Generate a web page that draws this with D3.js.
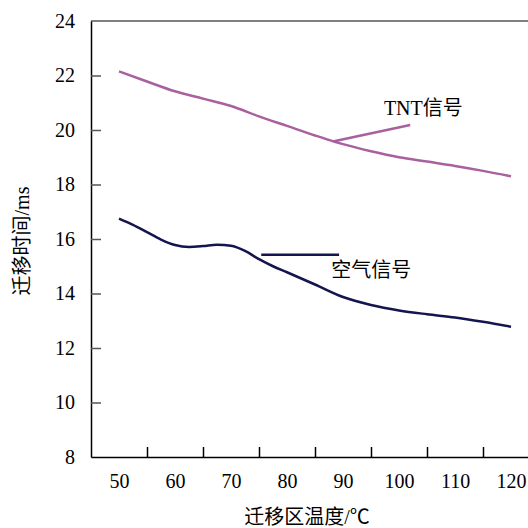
<!DOCTYPE html>
<meta charset="utf-8">
<script src="https://d3js.org/d3.v7.min.js"></script>
<style>
  body { margin: 0; background: #fff; }
  svg text { font-family: "Liberation Serif", "Noto Sans CJK SC", serif; fill: #000; }
</style>
<div id="chart"></div>
<script>
// ---- data ----
var xLabels = [50, 60, 70, 80, 90, 100, 110, 120];
var yTicks = [8, 10, 12, 14, 16, 18, 20, 22, 24];

var tntTemp = [50, 55, 60, 65, 70, 75, 80, 85, 88.5, 90, 95, 100, 105, 110, 115, 120];
var tntTime = [22.15, 21.78, 21.42, 21.15, 20.88, 20.5, 20.15, 19.8, 19.57, 19.48, 19.22, 19.0, 18.84, 18.68, 18.5, 18.3];

var airTemp = [50, 52.5, 55, 57.5, 60, 62.5, 65, 67.5, 70, 72.5, 75, 77.5, 80, 85, 90, 95, 100, 105, 110, 115, 120];
var airTime = [16.75, 16.52, 16.25, 15.98, 15.78, 15.71, 15.74, 15.79, 15.75, 15.56, 15.26, 15.0, 14.78, 14.33, 13.87, 13.58, 13.38, 13.24, 13.12, 12.96, 12.78];

// annotations: leader lines and labels (data coords)
var tntLeader = [[88.4, 19.59], [102, 20.18]];
var airLeader = [[75.4, 15.42], [89.3, 15.42]];
var tntLabel = {text: "TNT信号", t: 97.3, v: 20.55};
var airLabel = {text: "空气信号", t: 87.9, v: 14.62};

var xTitle = "迁移区温度/℃";
var yTitle = "迁移时间/ms";

// ---- layout ----
var W = 528, H = 528;
var plotLeft = 91, plotTop = 21, plotBottom = 457, plotRight = 539;

var svg = d3.select("#chart").append("svg")
  .attr("width", W).attr("height", H);

var x = d3.scaleLinear().domain([45, 125]).range([plotLeft, plotRight]);
var y = d3.scaleLinear().domain([8, 24]).range([plotBottom, plotTop]);

// top frame line
svg.append("line")
  .attr("x1", plotLeft).attr("x2", W)
  .attr("y1", plotTop).attr("y2", plotTop)
  .attr("stroke", "#555").attr("stroke-width", 1.5);

// y axis: ticks inward
var yAxis = svg.append("g")
  .attr("transform", "translate(" + plotLeft + ",0)")
  .call(d3.axisLeft(y).tickValues(yTicks).tickSizeInner(-10).tickSizeOuter(0).tickPadding(16));
yAxis.select(".domain").attr("stroke", "#000").attr("stroke-width", 1.5);
yAxis.selectAll(".tick line").attr("stroke", "#555").attr("stroke-width", 1.5);
yAxis.selectAll(".tick").filter(function(d) { return d === 8 || d === 24; }).select("line").remove();
yAxis.selectAll("text").style("font-size", "20px");

// x axis: labels at band centres, ticks between them
var xBounds = xLabels.slice(1).map(function(d) { return d - 5; });
var xAxis = svg.append("g")
  .attr("transform", "translate(0," + plotBottom + ")")
  .call(d3.axisBottom(x).tickValues(xBounds).tickSizeInner(-10).tickSizeOuter(0).tickFormat(""));
xAxis.select(".domain").attr("stroke", "#000").attr("stroke-width", 1.5);
xAxis.selectAll(".tick line").attr("stroke", "#000").attr("stroke-width", 1.5);

var xLab = svg.append("g")
  .attr("transform", "translate(0," + plotBottom + ")")
  .call(d3.axisBottom(x).tickValues(xLabels).tickSize(0).tickPadding(17));
xLab.select(".domain").remove();
xLab.selectAll("text").style("font-size", "20px");

// axis titles
svg.append("text")
  .attr("x", 307).attr("y", 524)
  .attr("text-anchor", "middle")
  .style("font-size", "20px")
  .text(xTitle);

svg.append("text")
  .attr("transform", "translate(29,241) rotate(-90)")
  .attr("text-anchor", "middle")
  .style("font-size", "20px")
  .text(yTitle);

// lines
var line = d3.line()
  .x(function(d) { return x(d[0]); })
  .y(function(d) { return y(d[1]); })
  .curve(d3.curveMonotoneX);

svg.append("path")
  .datum(tntTemp.map(function(t, i) { return [t, tntTime[i]]; }))
  .attr("d", line)
  .attr("fill", "none")
  .attr("stroke", "#a8609f")
  .attr("stroke-width", 2.5);

svg.append("path")
  .datum(airTemp.map(function(t, i) { return [t, airTime[i]]; }))
  .attr("d", line)
  .attr("fill", "none")
  .attr("stroke", "#14144e")
  .attr("stroke-width", 2.5);

// annotations
var straight = d3.line().x(function(d) { return x(d[0]); }).y(function(d) { return y(d[1]); });
svg.append("path").attr("d", straight(tntLeader))
  .attr("fill", "none").attr("stroke", "#a8609f").attr("stroke-width", 2.5);
svg.append("path").attr("d", straight(airLeader))
  .attr("fill", "none").attr("stroke", "#14144e").attr("stroke-width", 2.5);

[tntLabel, airLabel].forEach(function(l) {
  svg.append("text")
    .attr("x", x(l.t)).attr("y", y(l.v))
    .style("font-size", "20px")
    .text(l.text);
});
</script>
